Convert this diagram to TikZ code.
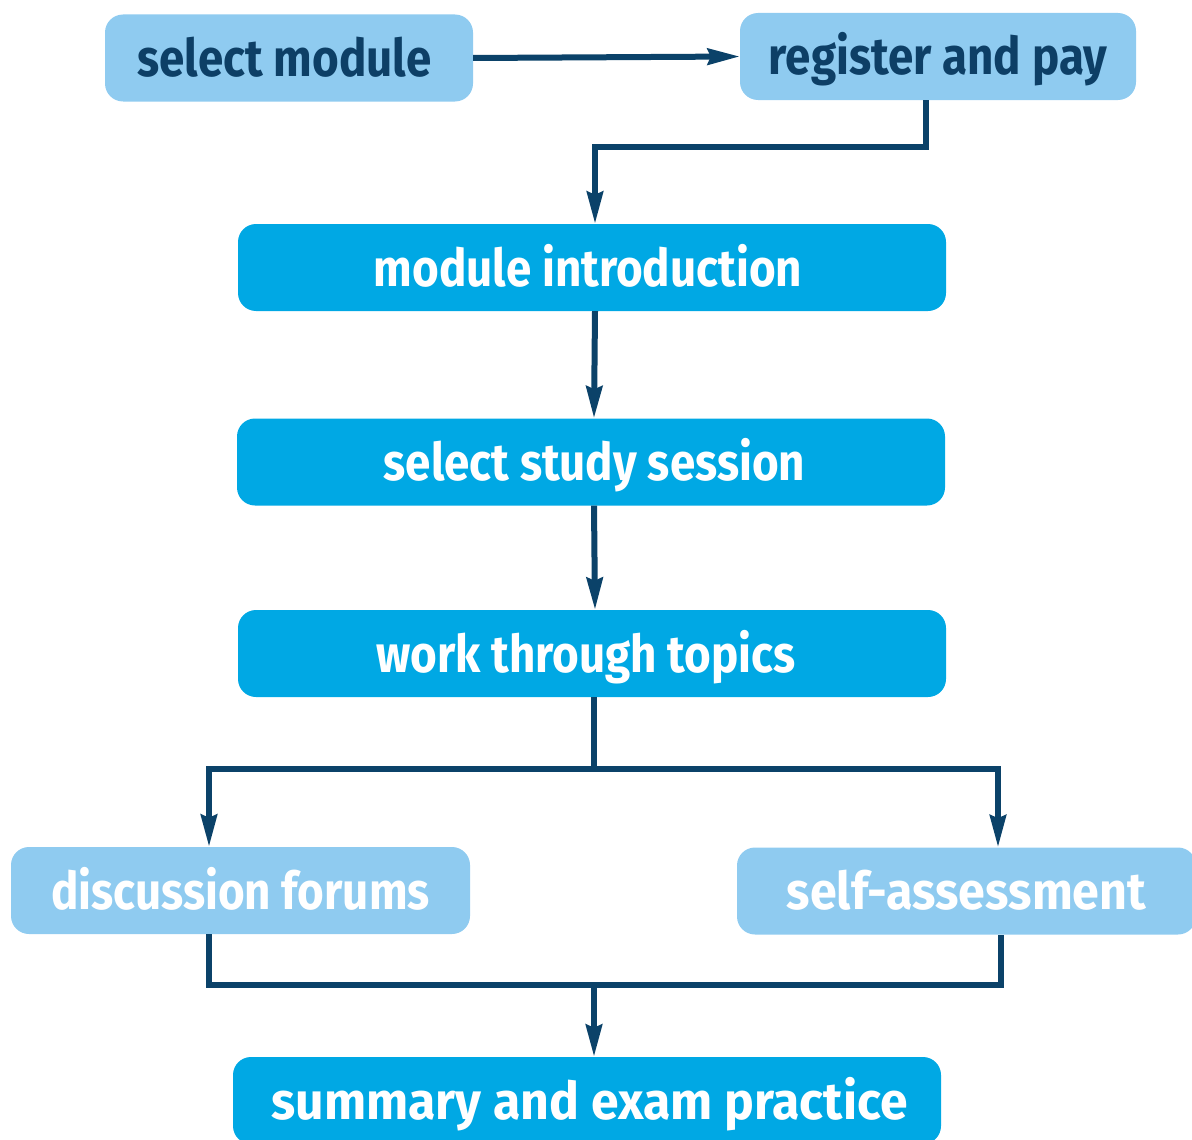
\documentclass[tikz,border=0pt]{standalone}
\usepackage{fontspec}
\setmainfont{Fira Sans}[FakeStretch=0.88]
\newfontfamily\widerfont{Fira Sans}[FakeStretch=0.93]
\newfontfamily\widestfont{Fira Sans}[FakeStretch=0.96]
\usetikzlibrary{arrows.meta}
\definecolor{lightb}{HTML}{8FCBF0}
\definecolor{brightb}{HTML}{00A8E4}
\definecolor{darkb}{HTML}{0B4269}
\definecolor{textdark}{HTML}{0D3F66}
\begin{document}
\begin{tikzpicture}[x=1pt,y=-1pt,
  box/.style={rounded corners=18pt, inner sep=0pt, minimum height=87pt,
    text height=37pt, text depth=0pt,
    font=\fontsize{52}{60}\selectfont\bfseries},
  lightbox/.style={box, fill=lightb},
  brightbox/.style={box, fill=brightb, text=white},
  nudge/.style={execute at begin node={\hspace*{#1}}},
  link/.style={draw=darkb, line width=6pt},
  arrowlink/.style={link, -{Stealth[length=32pt,width=16pt,inset=3pt]}}]
\useasboundingbox (0,0) rectangle (1192,1140);
\node[lightbox, text=textdark, minimum width=368pt, nudge=-9pt] (sm) at (289,58) {select module};
\node[lightbox, text=textdark, minimum width=396pt] (rp) at (938,56.5) {register and pay};
\node[brightbox, minimum width=708pt, nudge=-8pt] (mi) at (592,267.5) {module introduction};
\node[brightbox, minimum width=708pt, nudge=7pt] (ss) at (591,462) {select study session};
\node[brightbox, minimum width=708pt, nudge=-12pt] (wt) at (592,653.5) {work through topics};
\node[lightbox, text=white, minimum width=459pt] (df) at (240.5,890.5) {discussion forums};
\node[lightbox, text=white, minimum width=459pt] (sa) at (966.5,891) {\widerfont self-assessment};
\node[brightbox, minimum width=708pt, nudge=5pt] (se) at (587,1100.5) {\widestfont summary and exam practice};
\draw[arrowlink] (sm.east) -- (rp.west);
\draw[arrowlink] ([xshift=-12pt]rp.south) -- ++(0,47) -| ([xshift=3pt]mi.north);
\draw[arrowlink] ([xshift=3pt]mi.south) -- ([xshift=3pt]ss.north);
\draw[arrowlink] ([xshift=3pt]ss.south) -- ([xshift=3pt]wt.south |- wt.north);
\draw[link] ([xshift=2pt]wt.south) -- ++(0,72) coordinate (split);
\draw[arrowlink] (split) -| ([xshift=-31.5pt]df.north);
\draw[arrowlink] (split) -| ([xshift=31.5pt]sa.north);
\draw[link] ([xshift=-31.5pt]df.south) -- ++(0,51) coordinate (joinl) -| ([xshift=34pt]sa.south);
\coordinate (joinm) at ([xshift=7pt]se.north |- joinl);
\draw[arrowlink] (joinm) -- ([xshift=7pt]se.north);
\end{tikzpicture}
\end{document}
